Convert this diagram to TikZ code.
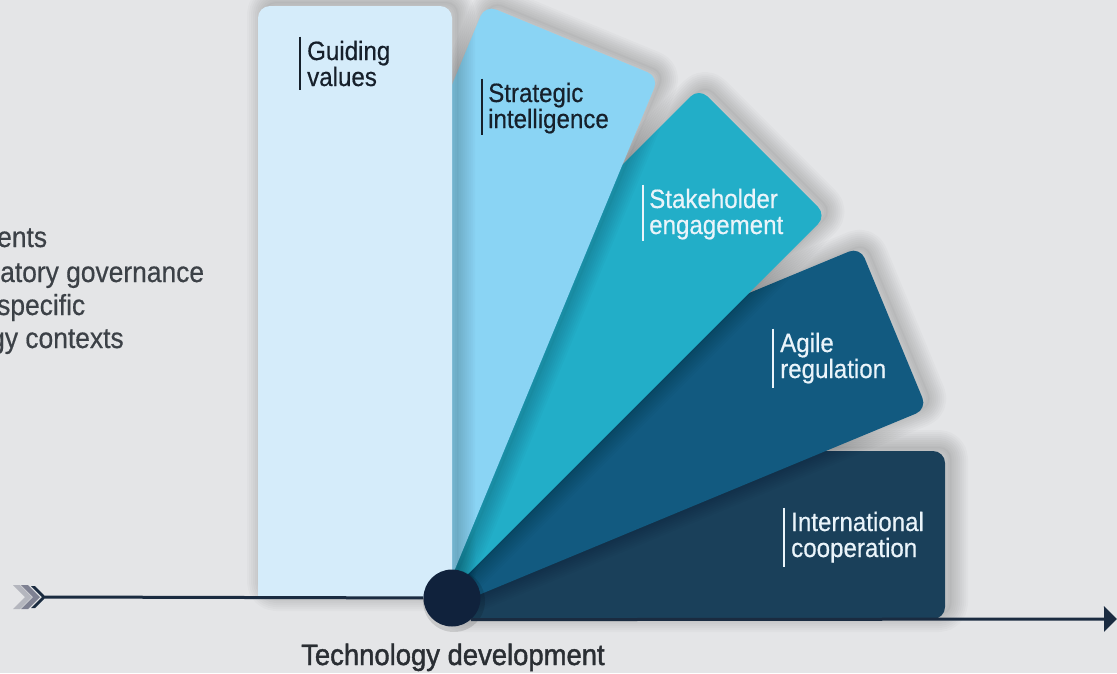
\documentclass[tikz,border=0pt]{standalone}
\usepackage{fontspec}
\setmainfont{Liberation Sans}
\newfontfamily\lblfont[FakeStretch=0.91,FakeBold=0.5]{Liberation Sans}
\newfontfamily\techfont[FakeStretch=0.93,FakeBold=1.4]{Liberation Sans}
\usetikzlibrary{arrows.meta}
\definecolor{cBg}{HTML}{E4E5E7}
\definecolor{cGuide}{HTML}{D5ECFA}
\definecolor{cStrat}{HTML}{8AD4F4}
\definecolor{cStake}{HTML}{22AEC8}
\definecolor{cAgile}{HTML}{125A80}
\definecolor{cInt}{HTML}{1A405A}
\definecolor{cHub}{HTML}{10223C}
\definecolor{cLine}{HTML}{1A2B40}
\definecolor{cTextD}{HTML}{16202B}
\definecolor{cTextL}{HTML}{EAF4FA}
\definecolor{cLeft}{HTML}{3C4147}
\definecolor{cTech}{HTML}{2A2E33}
\definecolor{cChevA}{HTML}{B4B6BE}
\definecolor{cChevB}{HTML}{7E8192}
\newcommand\mycard[2]{%
  \foreach \lw in {34,30,...,2}{%
    \draw[black, opacity=0.018, line width=\lw pt, line join=round, rounded corners=12pt, shift={(6,-4)}] #2;}
  \fill[black, opacity=0.02, rounded corners=12pt, shift={(6,-4)}] #2;
  \fill[#1, rounded corners=12pt] #2;}
\begin{document}
\begin{tikzpicture}[x=1pt,y=-1pt,
  lbl/.style={font=\lblfont\fontsize{26.5}{26}\selectfont, anchor=base west, align=left, inner sep=0pt},
  lblD/.style={lbl, text=cTextD},
  lblL/.style={lbl, text=cTextL},
  lefttext/.style={font=\lblfont\fontsize{29}{33}\selectfont, anchor=base west, inner sep=0pt, text=cLeft},
  axis/.style={draw=cLine, line width=3pt},
  barD/.style={draw=cTextD, line width=1.3pt},
  barL/.style={draw=cTextL, line width=1.3pt},
]
\fill[cBg] (0,0) rectangle (1117,673);
\useasboundingbox (0,0) rectangle (1117,673);
\clip (0,0) rectangle (1117,673);

% cards, back to front
\mycard{cInt}{(446,619) -- (945,619) -- (945,451) -- (446,451) -- cycle}
\mycard{cAgile}{(452,606) -- (927,409) -- (860,247) -- (385,444) -- cycle}
\mycard{cStake}{(444,598) -- (826.5,215.5) -- (699,88) -- (316.5,470.5) -- cycle}
\mycard{cStrat}{(443,598) -- (658.8,76.9) -- (485.1,5.0) -- (269.3,526.1) -- cycle}
\mycard{cGuide}{(452,598) -- (452,6) -- (258,6) -- (258,598) -- cycle}
\fill[cGuide] (258,575) rectangle (452,597);

% left chevrons
\fill[cChevA] (13,585) -- (20,585) -- (32,597) -- (20,609) -- (13,609) -- (25,597) -- cycle;
\fill[cChevB] (21,585) -- (28,585) -- (40,597) -- (28,609) -- (21,609) -- (33,597) -- cycle;
\fill[cLine] (31,586) -- (35,586) -- (46,597) -- (35,608) -- (31,608) -- (42,597) -- cycle;
\coordinate (chev) at (45,597);

% hub and axis
\fill[black, opacity=0.12] (454,601) circle (31);
\node[circle, fill=cHub, minimum size=57pt, inner sep=0pt] (hub) at (452,598) {};
\coordinate (end) at (1117,619);
\draw[axis] (chev) -- (hub);
\draw[axis, -{Triangle[length=13pt,width=25pt]}] (hub.-49) -- (end);

% card labels (anchor = baseline of the last line)
\node[lblD] (gv) at (307,86) {Guiding\\values};
\node[lblD] (si) at (488,128) {Strategic\\intelligence};
\node[lblL] (se) at (649,234) {Stakeholder\\engagement};
\node[lblL] (ar) at (780,378) {Agile\\regulation};
\node[lblL] (ic) at (791,557) {International\\cooperation};
\draw[barD] ([xshift=-7pt,yshift=4pt]gv.north west) -- ([xshift=-7pt,yshift=-4pt]gv.south west);
\draw[barD] ([xshift=-6pt,yshift=4pt]si.north west) -- ([xshift=-6pt,yshift=-1pt]si.south west);
\draw[barL] ([xshift=-6pt,yshift=4pt]se.north west) -- ([xshift=-6pt,yshift=-1pt]se.south west);
\draw[barL] ([xshift=-7pt,yshift=4pt]ar.north west) -- ([xshift=-7pt,yshift=-4pt]ar.south west);
\draw[barL] ([xshift=-7pt,yshift=4pt]ic.north west) -- ([xshift=-7pt,yshift=-4pt]ic.south west);

% left text (cut off by the frame, as in the reference)
\node[lefttext] (l1) at (-3,247) {ents};
\node[lefttext] (l2) at (0,282) {atory governance};
\node[lefttext] (l3) at (-3,315) {specific};
\node[lefttext] (l4) at (-10,348) {gy contexts};

% axis caption
\node[font=\techfont\fontsize{29.5}{32}\selectfont, text=cTech, anchor=base west, inner sep=0pt] (tech) at (301,665) {Technology development};
\end{tikzpicture}
\end{document}
